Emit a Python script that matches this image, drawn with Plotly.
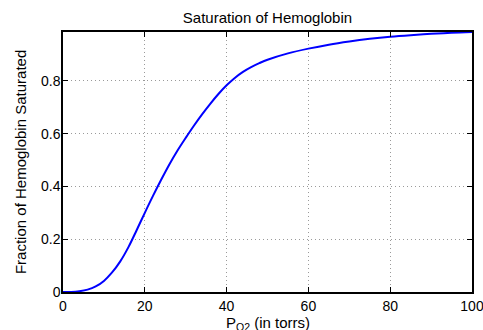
import plotly.graph_objects as go

# Partial pressure of O2 (torr) and fraction saturated
p_o2 = [0, 2, 4, 6, 8, 10, 12, 14, 16, 18, 20, 22, 24, 26, 28, 30, 32, 34, 36, 38, 40,
        42, 44, 46, 48, 50, 55, 60, 65, 70, 75, 80, 85, 90, 95, 100]
saturation = [0.0, 0.0003, 0.003, 0.009, 0.021, 0.042, 0.074, 0.116, 0.170, 0.234, 0.300,
              0.364, 0.425, 0.483, 0.536, 0.584, 0.630, 0.673, 0.713, 0.750, 0.783,
              0.811, 0.834, 0.852, 0.867, 0.880, 0.904, 0.922, 0.937, 0.949, 0.959,
              0.967, 0.973, 0.978, 0.982, 0.985]

x_ticks = [0, 20, 40, 60, 80, 100]
y_ticks = [0, 0.2, 0.4, 0.6, 0.8]
y_tick_labels = ["0", "0.2", "0.4", "0.6", "0.8"]

title_text = "Saturation of Hemoglobin"
x_label = "P<sub>O2</sub> (in torrs)"
y_label = "Fraction of Hemoglobin Saturated"

FONT = "Liberation Sans, Arial, Helvetica, sans-serif"

fig = go.Figure()
fig.add_trace(go.Scatter(
    x=p_o2, y=saturation, mode="lines",
    line=dict(color="#0000ff", width=2, shape="spline", smoothing=1.0),
    showlegend=False, hoverinfo="skip",
))

axis_common = dict(
    showline=True, linecolor="black", linewidth=1.5, mirror="ticks",
    ticks="inside", ticklen=5, tickwidth=1, tickcolor="black",
    showgrid=True, gridcolor="#9a9a9a", gridwidth=1, griddash="1px,3px",
    zeroline=False, tickfont=dict(family=FONT, size=14, color="black"),
    ticklabeloverflow="allow",
)

fig.update_xaxes(range=[0, 100], tickvals=x_ticks, ticktext=[str(v) for v in x_ticks],
                 **axis_common)
fig.update_yaxes(range=[0, 0.985], tickvals=y_ticks, ticktext=y_tick_labels,
                 ticklabelstandoff=-2, **axis_common)

plot_h = 330 - 32 - 38

fig.update_layout(
    width=483, height=330,
    margin=dict(l=63, r=11, t=32, b=38, autoexpand=False),
    paper_bgcolor="white", plot_bgcolor="white",
    font=dict(family=FONT, size=14, color="black"),
    title=dict(text=title_text, x=0.5, xref="paper", xanchor="center",
               y=1 - 17.5 / 330, yref="container", yanchor="middle",
               font=dict(family=FONT, size=15, color="black")),
    annotations=[
        dict(text=x_label, x=0.5, xref="paper", y=-31 / plot_h, yref="paper",
             showarrow=False, font=dict(family=FONT, size=15, color="black"),
             xanchor="center", yanchor="middle"),
        dict(text=y_label, x=-0.105, xref="paper", y=0.5, yref="paper", textangle=-90,
             showarrow=False, font=dict(family=FONT, size=15, color="black"),
             xanchor="center", yanchor="middle"),
    ],
)

fig.write_html("out.html", config={"displayModeBar": False},
               post_script="document.body.style.margin='0';document.body.style.overflow='hidden';")
